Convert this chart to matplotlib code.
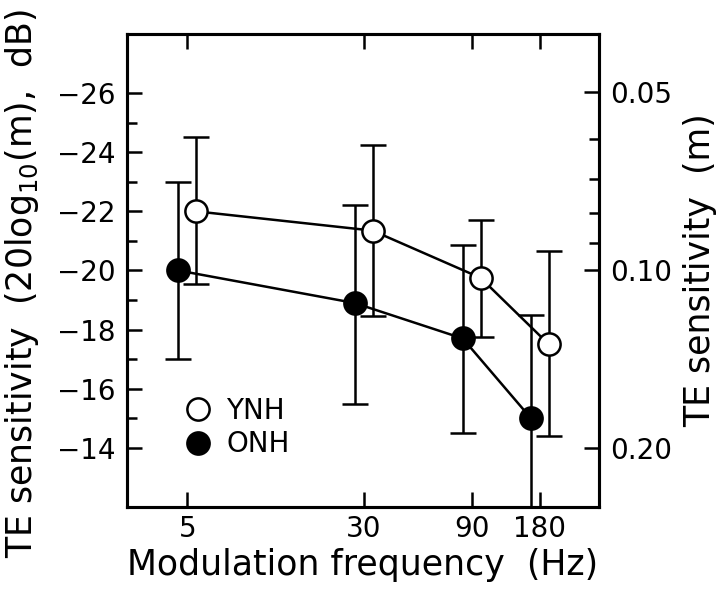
import numpy as np
import matplotlib
matplotlib.use("Agg")
import matplotlib.pyplot as plt
from matplotlib.ticker import FixedLocator, NullLocator, NullFormatter

# modulation frequencies (Hz) and TE sensitivity (dB, 20log10 m)
freqs = [5, 30, 90, 180]

ynh_mean = [-22.0, -21.35, -19.75, -17.5]
ynh_top = [-24.5, -24.25, -21.7, -20.65]
ynh_bot = [-19.55, -18.45, -17.75, -14.4]

onh_mean = [-20.0, -18.9, -17.7, -15.0]
onh_top = [-23.0, -22.2, -20.85, -18.5]
onh_bot = [-17.0, -15.5, -14.5, -11.0]

xtick_vals = [5, 30, 90, 180]
ytick_major = [-26, -24, -22, -20, -18, -16, -14]
ytick_minor = [-25, -23, -21, -19, -17, -15]
m_major = [0.05, 0.10, 0.20]
m_major_labels = ["0.05", "0.10", "0.20"]
m_minor = [0.06, 0.07, 0.08, 0.09]

plt.rcParams["font.family"] = "DejaVu Sans"

fig = plt.figure(figsize=(7.24, 5.93), dpi=100)
ax = fig.add_axes([0.1754, 0.145, 0.6519, 0.7977])

shift = 1.095  # horizontal offset between groups (log axis)
LW = 1.8
MS = 16


def draw(means, top, bot, xs, face):
    means = np.array(means)
    ax.errorbar(xs, means, yerr=[means - np.array(top), np.array(bot) - means],
                fmt="none", ecolor="black", elinewidth=LW, capsize=9.5,
                capthick=LW, zorder=2)
    ax.plot(xs, means, color="black", lw=LW, zorder=3)
    ax.plot(xs, means, "o", ms=MS, mfc=face, mec="black", mew=LW,
            ls="none", zorder=4)


x_ynh = [f * shift for f in freqs]
x_onh = [f / shift for f in freqs]
draw(onh_mean, onh_top, onh_bot, x_onh, "black")
draw(ynh_mean, ynh_top, ynh_bot, x_ynh, "white")

ax.set_xscale("log")
ax.set_xlim(2.71, 328)
ax.set_ylim(-12, -28)

ax.xaxis.set_major_locator(FixedLocator(xtick_vals))
ax.xaxis.set_minor_locator(NullLocator())
ax.set_xticklabels([str(v) for v in xtick_vals])
ax.yaxis.set_major_locator(FixedLocator(ytick_major))
ax.yaxis.set_minor_locator(FixedLocator(ytick_minor))
ax.set_yticklabels([f"\u2212{abs(v)}" for v in ytick_major])

ax.tick_params(axis="both", which="major", direction="in", length=11,
               width=1.8, labelsize=20, top=True)
ax.tick_params(axis="y", which="minor", direction="in", length=7, width=1.8)
ax.tick_params(axis="x", which="major", pad=6)
ax.tick_params(axis="y", which="major", pad=8)
for sp in ax.spines.values():
    sp.set_linewidth(2.2)

ax.set_xlabel("Modulation frequency  (Hz)", fontsize=25, labelpad=3)
ax.set_ylabel("TE sensitivity  (20log$_{10}$(m),  dB)", fontsize=25)
ax.yaxis.set_label_coords(-0.182, 0.472)

# right axis in linear modulation depth
ax2 = ax.twinx()
ax2.set_ylim(ax.get_ylim())
ax2.yaxis.set_major_locator(FixedLocator([20 * np.log10(m) for m in m_major]))
ax2.yaxis.set_minor_locator(FixedLocator([20 * np.log10(m) for m in m_minor]))
ax2.set_yticklabels(m_major_labels)
ax2.yaxis.set_minor_formatter(NullFormatter())
ax2.tick_params(axis="y", which="major", direction="in", length=11, width=1.8,
                labelsize=20, pad=8)
ax2.tick_params(axis="y", which="minor", direction="in", length=7, width=1.8)
for sp in ax2.spines.values():
    sp.set_linewidth(2.2)
ax2.set_ylabel("TE sensitivity  (m)", fontsize=25, labelpad=8)

# legend
h1, = ax.plot([], [], "o", ms=MS, mfc="white", mec="black", mew=LW)
h2, = ax.plot([], [], "o", ms=MS, mfc="black", mec="black", mew=LW)
ax.legend([h1, h2], ["YNH", "ONH"], loc="lower left",
          bbox_to_anchor=(0.075, 0.05), frameon=False, fontsize=20,
          handlelength=0.8, handletextpad=0.6, labelspacing=0.2)

fig.savefig("out.png", dpi=100)
